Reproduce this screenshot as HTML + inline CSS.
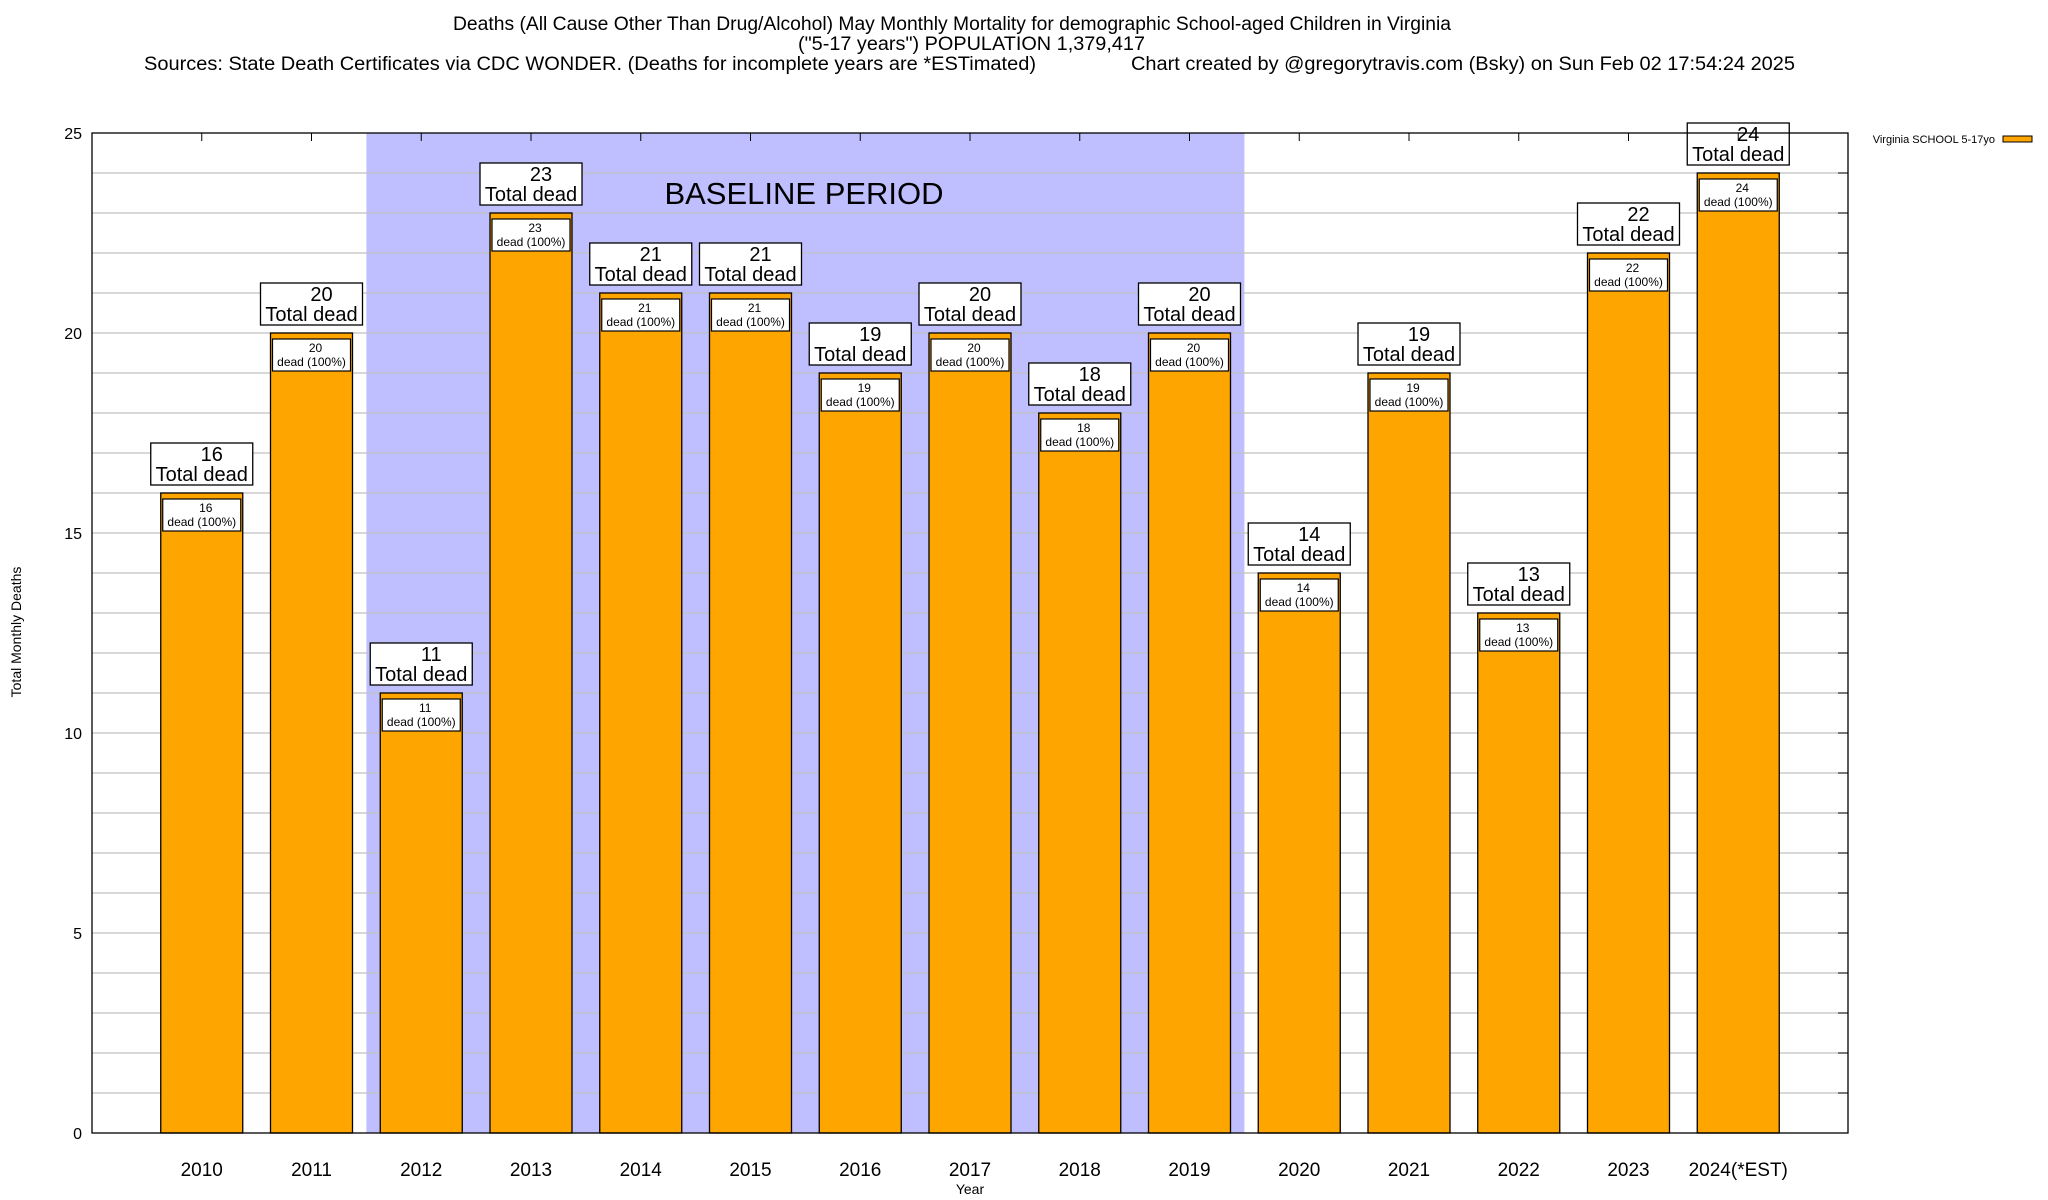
<!DOCTYPE html>
<html><head><meta charset="utf-8"><style>
html,body{margin:0;padding:0;background:#fff;}
svg{display:block;font-family:"Liberation Sans",Arial,sans-serif;}
</style></head><body>
<svg id="chart" width="2048" height="1200" viewBox="0 0 2048 1200" xmlns="http://www.w3.org/2000/svg">
<text x="453" y="30" font-size="19" textLength="998" lengthAdjust="spacingAndGlyphs">Deaths (All Cause Other Than Drug/Alcohol) May Monthly Mortality for demographic School-aged Children in Virginia</text>
<text x="798" y="50" font-size="19" textLength="347" lengthAdjust="spacingAndGlyphs">("5-17 years") POPULATION 1,379,417</text>
<text x="144" y="70" font-size="19" textLength="892" lengthAdjust="spacingAndGlyphs">Sources: State Death Certificates via CDC WONDER. (Deaths for incomplete years are *ESTimated)</text>
<text x="1131" y="70" font-size="19" textLength="664" lengthAdjust="spacingAndGlyphs">Chart created by @gregorytravis.com (Bsky) on Sun Feb 02 17:54:24 2025</text>
<g id="plot"></g>
<text transform="translate(21,632) rotate(-90)" font-size="14" text-anchor="middle">Total Monthly Deaths</text>
<text x="970" y="1194" font-size="14" text-anchor="middle">Year</text>
<text x="1995" y="143" font-size="11" text-anchor="end">Virginia SCHOOL 5-17yo</text>
<rect x="2003" y="136" width="29" height="6" fill="#ffa500" stroke="#000" stroke-width="1"/>
</svg>
<script>
const categories = ["2010","2011","2012","2013","2014","2015","2016","2017","2018","2019","2020","2021","2022","2023","2024(*EST)"];
const deaths = [16,20,11,23,21,21,19,20,18,20,14,19,13,22,24];
const yTicks = [0,5,10,15,20,25];
const baselineRange = [1.5, 9.5];

const NS = "http://www.w3.org/2000/svg";
const L=92,R=1848,T=133,B=1133;
const xS = i => L + (i+1)*(R-L)/16;
const yS = v => B - v*(B-T)/25;
const g = document.getElementById('plot');
function mk(tag, attrs, parent){const e=document.createElementNS(NS,tag);for(const k in attrs)e.setAttribute(k,attrs[k]);(parent||g).appendChild(e);return e;}

const bl = mk('rect',{x:xS(baselineRange[0]),y:T,width:xS(baselineRange[1])-xS(baselineRange[0]),height:B-T,fill:'#bfbfff'});



for(let v=1;v<25;v++){
  const ln = mk('line',{x1:L,x2:R,y1:yS(v),y2:yS(v),stroke:'#c0c0c0','stroke-width':1.2});
  
  
  const tk = mk('line',{x1:R-10,x2:R,y1:yS(v),y2:yS(v),stroke:'#000'});
  
  
}
yTicks.forEach(t=>{
  const tx = mk('text',{x:82,y:yS(t)+6,'font-size':16,'text-anchor':'end'});
  tx.textContent=t;
  
  
});

const bt = mk('text',{x:804,y:204,'font-size':31,'text-anchor':'middle'});
bt.textContent='BASELINE PERIOD';



const bw=82;
categories.forEach((c,i)=>{
  const v=deaths[i], cx=xS(i);
  const bar = mk('rect',{x:cx-bw/2,y:yS(v),width:bw,height:B-yS(v),fill:'#ffa500',stroke:'#000','stroke-width':1.3});
  
  
  const ib = mk('rect',{x:cx-bw/2+2,y:yS(v-0.15),width:bw-4,height:yS(v-0.95)-yS(v-0.15),fill:'#fff',stroke:'#000','stroke-width':1.2});
  
  
  const t1 = mk('text',{x:cx+4,y:yS(v-0.15)+13,'font-size':12,'text-anchor':'middle'});
  t1.textContent=v;
  
  
  const t2 = mk('text',{x:cx,y:yS(v-0.15)+27,'font-size':12,'text-anchor':'middle'});
  t2.textContent='dead (100%)';
  
  
  const ob = mk('rect',{x:cx-51,y:yS(v+0.2)-42,width:102,height:42,fill:'#fff',stroke:'#000','stroke-width':1.3});
  
  
  const o1 = mk('text',{x:cx+10,y:yS(v+0.2)-24,'font-size':20,'text-anchor':'middle'});
  o1.textContent=v;
  
  
  const o2 = mk('text',{x:cx,y:yS(v+0.2)-4,'font-size':20,'text-anchor':'middle'});
  o2.textContent='Total dead';
  
  
  const xl = mk('text',{x:cx,y:1176,'font-size':19,'text-anchor':'middle'});
  xl.textContent=c;
  
  
  const tk = mk('line',{x1:cx,x2:cx,y1:T,y2:T+8,stroke:'#000'});
  
  
});

const fr = mk('rect',{x:L,y:T,width:R-L,height:B-T,fill:'none',stroke:'#000','stroke-width':1.3});


</script>
</body></html>
